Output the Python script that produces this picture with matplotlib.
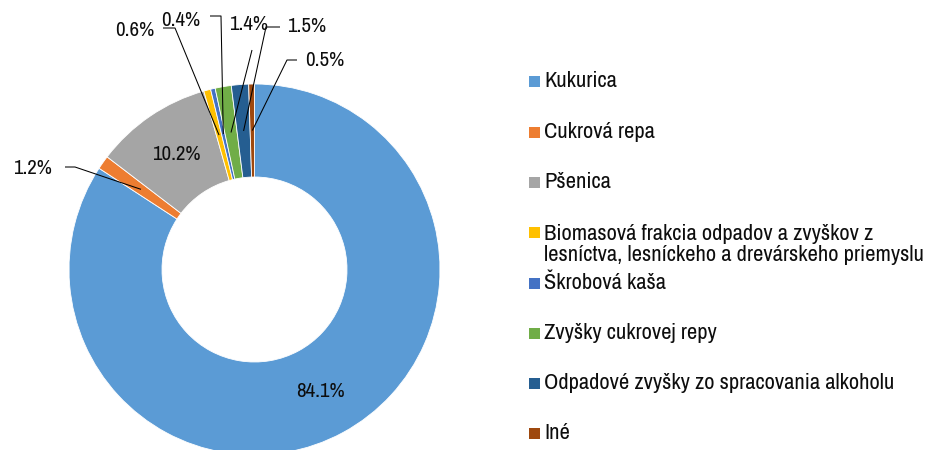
import matplotlib
matplotlib.use("Agg")
import matplotlib.pyplot as plt
import numpy as np

plt.rcParams['font.family'] = ['Archivo Narrow', 'DejaVu Sans']

# Data
categories = [
    "Kukurica",
    "Cukrová repa",
    "Pšenica",
    "Biomasová frakcia odpadov a zvyškov z\nlesníctva, lesníckeho a drevárskeho priemyslu",
    "Škrobová kaša",
    "Zvyšky cukrovej repy",
    "Odpadové zvyšky zo spracovania alkoholu",
    "Iné",
]
shares = [84.1, 1.2, 10.2, 0.6, 0.4, 1.4, 1.5, 0.5]
colors = ["#5B9BD5", "#ED7D31", "#A5A5A5", "#FFC000", "#4472C4", "#70AD47", "#255E91", "#9E480E"]

W, H = 935, 450
fig = plt.figure(figsize=(W / 100, H / 100), dpi=100)
ax = fig.add_axes([0, 0, 1, 1])

def py(y):
    # convert a top-down pixel row into the y-up axis coordinate
    return H - y

cx, cy = 254.5, py(269.5)
R_out, R_in = 185.5, 92.5
ring = R_out - R_in
r_mid = (R_out + R_in) / 2

wedges, _ = ax.pie(shares, colors=colors, startangle=90, counterclock=False,
                   radius=R_out, center=(cx, cy),
                   wedgeprops=dict(width=ring, edgecolor="white", linewidth=0.6))

ax.set_xlim(0, W)
ax.set_ylim(0, H)
ax.set_aspect("equal")
ax.axis("off")

txt_color = "#0d0d0d"
fs = 15
fs_leg = 16.2

def mid_point(w):
    a = np.deg2rad((w.theta1 + w.theta2) / 2)
    return cx + r_mid * np.cos(a), cy + r_mid * np.sin(a)

# Labels placed inside the ring
for i in (0, 2):
    x, y = mid_point(wedges[i])
    ax.text(x, y, f"{shares[i]:.1f}%", ha="center", va="center", fontsize=fs, color=txt_color)

# Labels with leader lines: (index, text centre, leader knee points in pixels)
outside = {
    1: ((32, 168.5), [(65, 167), (75, 167)]),
    3: ((135, 30), [(163, 28), (175, 28)]),
    4: ((181, 20), [(210, 16), (221, 16)]),
    5: ((248.5, 24.5), [(252, 50)]),
    6: ((307, 27), [(280, 27), (266, 27)]),
    7: ((325, 60), [(297, 60), (287, 60)]),
}
for i, ((tx, ty), knees) in outside.items():
    ax.text(tx, py(ty), f"{shares[i]:.1f}%", ha="center", va="center", fontsize=fs, color=txt_color)
    ex, ey = mid_point(wedges[i])
    xs = [k[0] for k in knees] + [ex]
    ys = [py(k[1]) for k in knees] + [ey]
    ax.plot(xs, ys, color="black", linewidth=0.75, solid_capstyle="butt")

# Legend
leg_rows = [81, 131.5, 182, 232, 283, 333, 383, 433]
line_gap = 25
for lab, col, yr in zip(categories, colors, leg_rows):
    ax.scatter([533.5], [py(yr)], marker="s", s=11 ** 2 * 0.5184, color=col, linewidths=0)
    n = lab.count("\n")
    ax.text(544, py(yr + n * line_gap / 2), lab, ha="left", va="center",
            fontsize=fs_leg, color=txt_color, linespacing=1.12)

fig.savefig("out.png", dpi=100)
